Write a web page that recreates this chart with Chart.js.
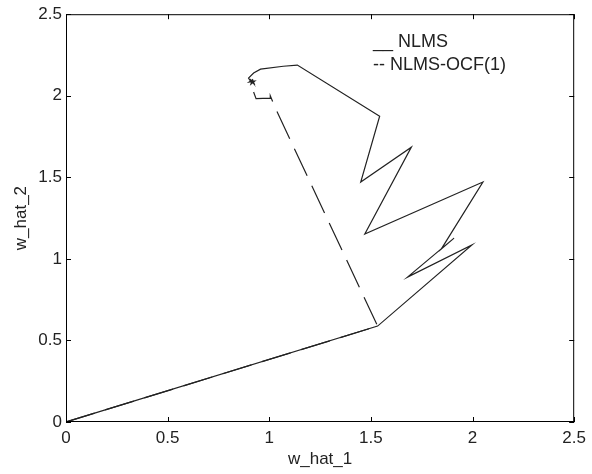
<!DOCTYPE html>
<html>
<head>
<meta charset="utf-8">
<script src="https://cdn.jsdelivr.net/npm/chart.js@4/dist/chart.umd.min.js"></script>
<style>
  html, body { margin: 0; padding: 0; background: #fff; }
  #wrap { width: 592px; height: 474px; }
</style>
</head>
<body>
<div id="wrap"><canvas id="traj" width="592" height="474"></canvas></div>
<script>
// trajectoire des poids estimés
const nlmsX = [0, 1.533, 1.997, 1.680, 1.909, 1.846, 2.051, 1.470, 1.699, 1.450, 1.543, 1.138, 1.069, 0.957, 0.923, 0.898, 0.905, 0.925, 0.918, 0.902, 0.928, 0.910, 0.915, 0.920, 0.905, 0.913];
const nlmsY = [0, 0.588, 1.085, 0.888, 1.127, 1.060, 1.471, 1.152, 1.685, 1.471, 1.875, 2.188, 2.181, 2.163, 2.139, 2.108, 2.095, 2.075, 2.098, 2.085, 2.090, 2.072, 2.092, 2.080, 2.102, 2.086];

const ocfX = [0, 1.533, 1.030, 1.005, 1.005, 0.935, 0.915, 0.910];
const ocfY = [0, 0.588, 1.924, 2.000, 1.985, 1.982, 2.050, 2.090];

const tickVals = [0, 0.5, 1, 1.5, 2, 2.5];
const tickLabels = ['0', '0.5', '1', '1.5', '2', '2.5'];

const legendLines = ['__ NLMS', '-- NLMS-OCF(1)'];

const police = '"Liberation Sans", Arial, sans-serif';
const encre = '#222';

function pts(xs, ys) {
    return xs.map((x, i) => ({ x: x, y: ys[i] }));
}

function fmt(v) {
    const i = tickVals.indexOf(Math.round(v * 10) / 10);
    return i >= 0 ? tickLabels[i] : '';
}

// cadre + graduations intérieures façon MATLAB, et le texte de légende
const cadrePlugin = {
    id: 'cadre',
    afterDraw(chart) {
        const ctx = chart.ctx;
        const a = chart.chartArea;
        const sx = chart.scales.x, sy = chart.scales.y;
        const tl = 5;
        ctx.save();
        ctx.strokeStyle = '#000';
        ctx.lineWidth = 1;
        ctx.strokeRect(a.left + 0.5, a.top + 0.5, a.right - a.left - 1, a.bottom - a.top - 1);
        ctx.beginPath();
        tickVals.forEach(v => {
            const px = Math.round(sx.getPixelForValue(v)) + 0.5;
            ctx.moveTo(px, a.bottom); ctx.lineTo(px, a.bottom - tl);
            ctx.moveTo(px, a.top); ctx.lineTo(px, a.top + tl);
            const py = Math.round(sy.getPixelForValue(v)) + 0.5;
            ctx.moveTo(a.left, py); ctx.lineTo(a.left + tl, py);
            ctx.moveTo(a.right, py); ctx.lineTo(a.right - tl, py);
        });
        ctx.stroke();

        ctx.fillStyle = encre;
        ctx.font = '18px ' + police;
        ctx.textAlign = 'left';
        ctx.textBaseline = 'alphabetic';
        ctx.fillText(legendLines[0], 373, 47);
        ctx.fillText(legendLines[1], 373, 70);
        ctx.restore();
    }
};

const ctx = document.getElementById('traj').getContext('2d');
new Chart(ctx, {
    type: 'scatter',
    data: {
        datasets: [
            {
                label: 'NLMS-OCF(1)',
                data: pts(ocfX, ocfY),
                showLine: true,
                borderColor: '#222',
                borderWidth: 1.2,
                borderDash: [30, 11],
                pointRadius: 0,
                fill: false
            },
            {
                label: 'NLMS',
                data: pts(nlmsX, nlmsY),
                showLine: true,
                borderColor: '#222',
                borderWidth: 1.2,
                pointRadius: 0,
                fill: false
            }
        ]
    },
    options: {
        responsive: false,
        animation: false,
        layout: { padding: { left: 0, right: 14, top: 14, bottom: 0 } },
        plugins: {
            legend: { display: false },
            tooltip: { enabled: false }
        },
        scales: {
            x: {
                type: 'linear',
                min: 0,
                max: 2.5,
                afterFit(s) { s.height = 52; },
                afterBuildTicks(s) { s.ticks = tickVals.map(v => ({ value: v })); },
                ticks: {
                    callback: fmt,
                    font: { family: police, size: 17 },
                    color: encre,
                    padding: 6,
                    maxRotation: 0
                },
                grid: { display: false, drawTicks: false },
                border: { display: false },
                title: {
                    display: true,
                    text: 'w_hat_1',
                    font: { family: police, size: 17 },
                    color: encre,
                    padding: { top: 0, bottom: 4 }
                }
            },
            y: {
                type: 'linear',
                min: 0,
                max: 2.5,
                afterFit(s) { s.width = 66; },
                afterBuildTicks(s) { s.ticks = tickVals.map(v => ({ value: v })); },
                ticks: {
                    callback: fmt,
                    font: { family: police, size: 17 },
                    color: encre,
                    padding: 4
                },
                grid: { display: false, drawTicks: false },
                border: { display: false },
                title: {
                    display: true,
                    text: 'w_hat_2',
                    font: { family: police, size: 17 },
                    color: encre,
                    padding: { top: 11, bottom: 0 }
                }
            }
        }
    },
    plugins: [cadrePlugin]
});
</script>
</body>
</html>
